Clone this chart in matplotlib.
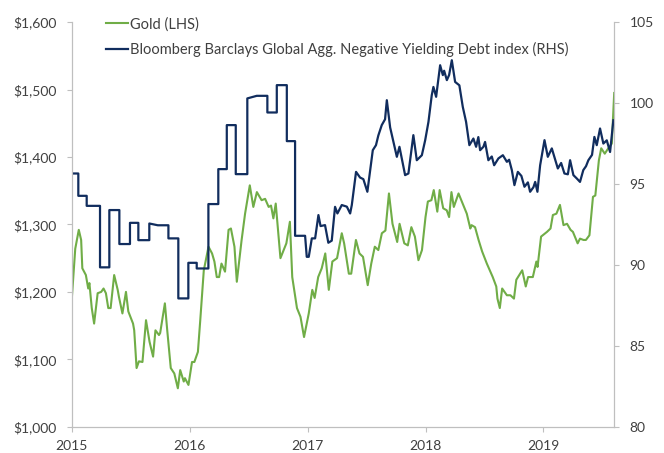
import matplotlib
matplotlib.use("Agg")
import matplotlib.pyplot as plt
from matplotlib.ticker import FuncFormatter

# ---- data (decimal years) ----
gold_t = [2015.00, 2015.03, 2015.06, 2015.08, 2015.09, 2015.12, 2015.14, 2015.15, 2015.17, 2015.19,
          2015.22, 2015.25, 2015.27, 2015.29, 2015.31, 2015.33, 2015.36, 2015.39, 2015.40, 2015.43,
          2015.46, 2015.48, 2015.52, 2015.53, 2015.55, 2015.57, 2015.60, 2015.63, 2015.66, 2015.69,
          2015.71, 2015.74, 2015.75, 2015.79, 2015.81, 2015.84, 2015.87, 2015.90, 2015.92, 2015.95,
          2015.96, 2015.99, 2016.02, 2016.04, 2016.07, 2016.09, 2016.12, 2016.16, 2016.19, 2016.21,
          2016.23, 2016.25, 2016.27, 2016.30, 2016.33, 2016.35, 2016.38, 2016.40, 2016.44, 2016.47,
          2016.51, 2016.54, 2016.57, 2016.61, 2016.64, 2016.67, 2016.69, 2016.71, 2016.73, 2016.77,
          2016.82, 2016.85, 2016.87, 2016.91, 2016.94, 2016.97, 2017.01, 2017.04, 2017.06, 2017.09,
          2017.12, 2017.15, 2017.18, 2017.21, 2017.25, 2017.29, 2017.31, 2017.35, 2017.37, 2017.41,
          2017.44, 2017.47, 2017.51, 2017.54, 2017.57, 2017.60, 2017.63, 2017.66, 2017.69, 2017.72,
          2017.76, 2017.78, 2017.82, 2017.85, 2017.88, 2017.91, 2017.94, 2017.97, 2018.00, 2018.02,
          2018.05, 2018.07, 2018.10, 2018.12, 2018.15, 2018.18, 2018.20, 2018.22, 2018.24, 2018.28,
          2018.32, 2018.35, 2018.38, 2018.39, 2018.42, 2018.45, 2018.48, 2018.52, 2018.57, 2018.60,
          2018.61, 2018.63, 2018.65, 2018.69, 2018.72, 2018.75, 2018.77, 2018.82, 2018.85, 2018.87,
          2018.91, 2018.94, 2018.95, 2018.98, 2019.03, 2019.06, 2019.08, 2019.11, 2019.14, 2019.17,
          2019.20, 2019.23, 2019.25, 2019.29, 2019.31, 2019.34, 2019.36, 2019.39, 2019.42, 2019.44,
          2019.47, 2019.49, 2019.52, 2019.55, 2019.58, 2019.60]
gold = [1188, 1264, 1292, 1277, 1235, 1225, 1205, 1213, 1176, 1153,
        1198, 1200, 1205, 1198, 1176, 1176, 1225, 1203, 1193, 1168,
        1200, 1171, 1153, 1143, 1087, 1097, 1096, 1158, 1126, 1104,
        1143, 1136, 1139, 1183, 1143, 1087, 1079, 1057, 1084, 1067,
        1072, 1062, 1096, 1096, 1111, 1158, 1232, 1267, 1257, 1245,
        1222, 1222, 1242, 1230, 1292, 1294, 1267, 1215, 1276, 1316,
        1358, 1326, 1348, 1336, 1338, 1326, 1328, 1309, 1331, 1250,
        1272, 1304, 1222, 1176, 1163, 1133, 1168, 1203, 1191, 1222,
        1235, 1257, 1203, 1245, 1250, 1287, 1272, 1227, 1227, 1277,
        1257, 1252, 1210, 1242, 1267, 1262, 1287, 1291, 1346, 1301,
        1274, 1301, 1272, 1269, 1296, 1282, 1247, 1262, 1311, 1334,
        1336, 1351, 1319, 1351, 1324, 1321, 1311, 1348, 1326, 1346,
        1329, 1316, 1294, 1299, 1296, 1277, 1260, 1242, 1222, 1208,
        1190, 1176, 1205, 1195, 1195, 1190, 1218, 1232, 1208, 1222,
        1222, 1245, 1237, 1282, 1289, 1294, 1314, 1316, 1329, 1299,
        1301, 1292, 1289, 1272, 1279, 1277, 1277, 1284, 1341, 1343,
        1395, 1413, 1405, 1413, 1420, 1495]

debt_t = [2015.00, 2015.056, 2015.056, 2015.127, 2015.127, 2015.24, 2015.24, 2015.319, 2015.319, 2015.404,
          2015.404, 2015.494, 2015.494, 2015.565, 2015.565, 2015.658, 2015.658, 2015.73, 2015.82, 2015.82,
          2015.904, 2015.904, 2015.989, 2015.989, 2016.06, 2016.06, 2016.159, 2016.159, 2016.243, 2016.243,
          2016.315, 2016.315, 2016.391, 2016.391, 2016.489, 2016.489, 2016.569, 2016.659, 2016.659, 2016.739,
          2016.739, 2016.824, 2016.824, 2016.894, 2016.894, 2016.979, 2016.993, 2017.01, 2017.036, 2017.064,
          2017.092, 2017.11, 2017.148, 2017.176, 2017.205, 2017.233, 2017.253, 2017.29, 2017.333, 2017.361,
          2017.375, 2017.411, 2017.445, 2017.473, 2017.507, 2017.553, 2017.58, 2017.60, 2017.629, 2017.657,
          2017.672, 2017.70, 2017.757, 2017.779, 2017.827, 2017.855, 2017.897, 2017.926, 2017.969, 2017.997,
          2018.025, 2018.053, 2018.067, 2018.09, 2018.124, 2018.147, 2018.158, 2018.181, 2018.20, 2018.223,
          2018.251, 2018.287, 2018.316, 2018.344, 2018.372, 2018.406, 2018.429, 2018.448, 2018.463, 2018.491,
          2018.505, 2018.533, 2018.562, 2018.582, 2018.618, 2018.656, 2018.69, 2018.709, 2018.732, 2018.754,
          2018.783, 2018.813, 2018.839, 2018.868, 2018.887, 2018.915, 2018.93, 2018.949, 2018.972, 2019.009,
          2019.037, 2019.071, 2019.10, 2019.122, 2019.15, 2019.178, 2019.207, 2019.226, 2019.254, 2019.283,
          2019.31, 2019.338, 2019.361, 2019.381, 2019.412, 2019.432, 2019.452, 2019.48, 2019.508, 2019.537,
          2019.565, 2019.593]
debt = [95.65, 95.65, 94.27, 94.27, 93.65, 93.65, 89.85, 89.85, 93.39, 93.39,
        91.29, 91.29, 92.60, 92.60, 91.53, 91.53, 92.56, 92.45, 92.45, 91.64,
        91.64, 87.93, 87.93, 90.13, 90.13, 89.78, 89.78, 93.76, 93.76, 95.92,
        95.92, 98.64, 98.64, 95.61, 95.61, 100.29, 100.45, 100.45, 99.42, 99.42,
        101.11, 101.11, 97.65, 97.65, 91.80, 91.80, 90.50, 90.50, 91.64, 91.64,
        93.08, 92.40, 92.46, 91.37, 91.50, 93.59, 93.18, 93.70, 93.60, 93.18,
        93.70, 95.75, 95.40, 95.30, 94.52, 97.09, 97.40, 98.00, 98.64, 99.00,
        100.18, 98.50, 96.68, 97.30, 95.55, 95.65, 98.02, 96.47, 96.78, 97.70,
        98.84, 100.49, 101.00, 100.39, 102.34, 101.73, 102.00, 101.42, 101.73, 102.65,
        101.31, 101.10, 99.77, 98.84, 97.40, 97.81, 97.30, 97.90, 97.09, 97.30,
        97.60, 96.47, 96.70, 96.16, 96.58, 96.78, 96.37, 96.50, 95.86, 94.93,
        95.75, 95.50, 94.83, 95.10, 94.52, 94.80, 95.13, 94.52, 96.16, 97.71,
        96.68, 97.20, 96.50, 95.96, 96.30, 95.65, 95.60, 96.47, 95.55, 95.34,
        95.13, 95.86, 96.10, 96.47, 96.80, 97.91, 97.40, 98.43, 97.50, 97.70,
        96.98, 98.94]

years = [2015, 2016, 2017, 2018, 2019]
gold_ticks = [1000, 1100, 1200, 1300, 1400, 1500, 1600]
debt_ticks = [80, 85, 90, 95, 100, 105]

GREEN = "#70AD47"
NAVY = "#112D5E"
GRID = "#BFBFBF"
TXT = "#404040"

plt.rcParams["font.family"] = ["Lato", "DejaVu Sans"]

fig = plt.figure(figsize=(6.64, 4.53), dpi=100)
ax = fig.add_axes([0.108, 0.058, 0.817, 0.893])
ax2 = ax.twinx()

l1, = ax.plot(gold_t, gold, color=GREEN, lw=1.5, label="Gold (LHS)")
l2, = ax2.plot(debt_t, debt, color=NAVY, lw=1.6,
               label="Bloomberg Barclays Global Agg. Negative Yielding Debt index (RHS)")

ax.set_xlim(2015, 2019.6)
ax.set_ylim(1000, 1600)
ax2.set_ylim(80, 105)
ax.set_xticks(years)
ax.set_xticklabels([str(y) for y in years])
ax.set_yticks(gold_ticks)
ax.yaxis.set_major_formatter(FuncFormatter(lambda v, p: f"${v:,.0f}"))
ax2.set_yticks(debt_ticks)

for a in (ax, ax2):
    a.spines["top"].set_visible(False)
    for s in ("left", "right", "bottom"):
        a.spines[s].set_color(GRID)
        a.spines[s].set_linewidth(0.8)
    a.tick_params(colors=GRID, labelcolor=TXT, labelsize=10, length=3.6, width=0.8)
ax.tick_params(axis="y", pad=7.5)
ax2.tick_params(axis="y", pad=7.5)
ax.tick_params(axis="x", pad=6)

fig.legend(handles=[l1, l2], loc="upper left", bbox_to_anchor=(106 / 664, 1 - 17 / 453),
           frameon=False, fontsize=10.5, labelcolor=TXT, handlelength=1.5, handletextpad=0.15,
           borderpad=0, borderaxespad=0, labelspacing=0.75)

fig.savefig("out.png", dpi=100)
